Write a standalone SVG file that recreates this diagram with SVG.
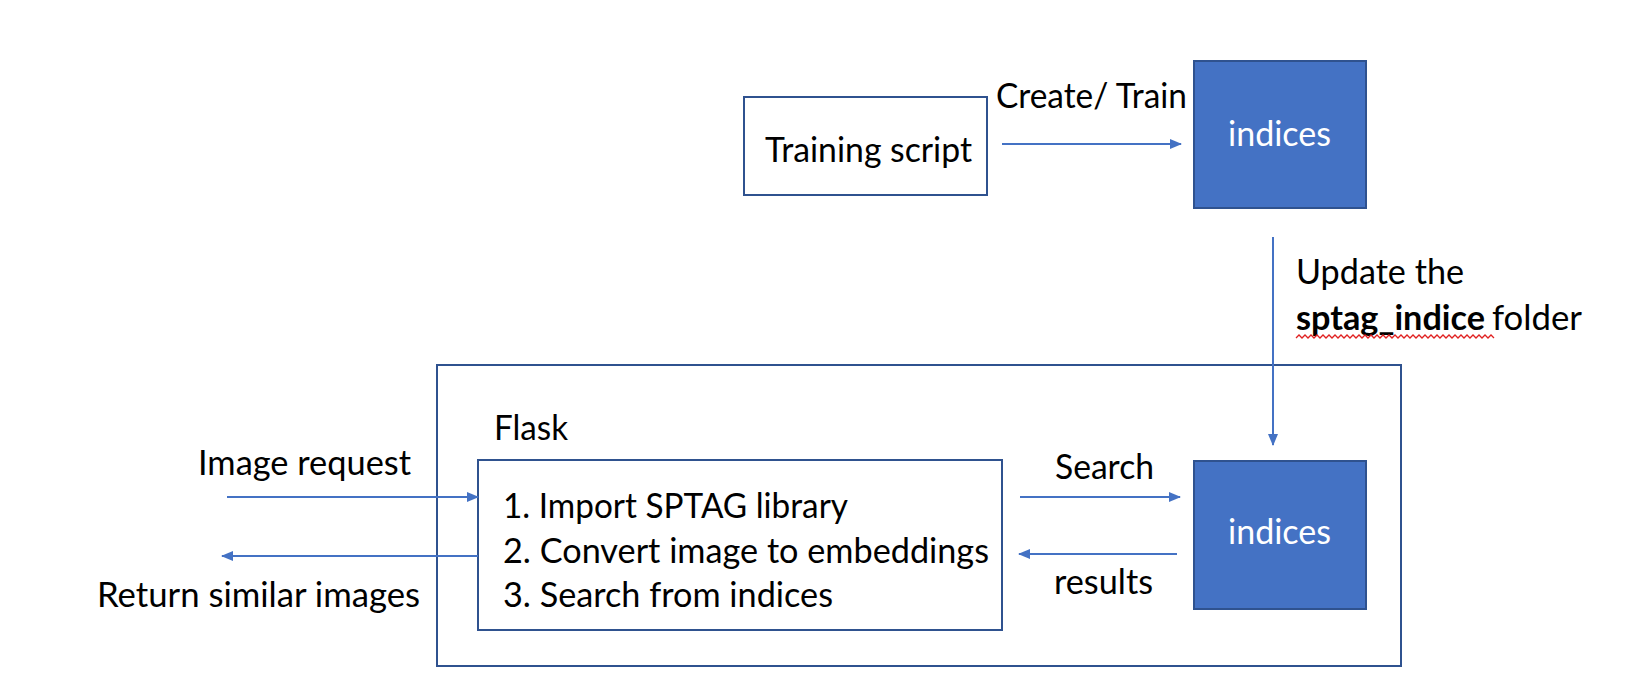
<svg xmlns="http://www.w3.org/2000/svg" width="1632" height="696" viewBox="0 0 1632 696">
<style>
.t{font-family:Lato,"Liberation Sans",sans-serif;font-size:34px;fill:#000}
.w{fill:#fff}
.box{fill:#fff;stroke:#2F528F;stroke-width:2}
.blue{fill:#4472C4;stroke:#2F528F;stroke-width:2}
.c{stroke:#4472C4;stroke-width:2;fill:none;marker-end:url(#ah)}
</style>
<defs>
<marker id="ah" markerWidth="12" markerHeight="10" refX="11" refY="5" orient="auto" markerUnits="userSpaceOnUse">
<path d="M0,0 L12,5 L0,10 Z" fill="#4472C4"/>
</marker>
</defs>
<rect width="1632" height="696" fill="#fff"/>
<g id="flask">
<rect class="box" x="437" y="365" width="964" height="301"/>
<text class="t" x="494" y="440" textLength="74" lengthAdjust="spacingAndGlyphs">Flask</text>
</g>
<g id="training">
<rect class="box" x="744" y="97" width="243" height="98"/>
<text class="t" x="765" y="162" textLength="207" lengthAdjust="spacingAndGlyphs">Training script</text>
</g>
<g id="indices-top">
<rect class="blue" x="1194" y="61" width="172" height="147"/>
<text class="t w" x="1228" y="146" textLength="103" lengthAdjust="spacingAndGlyphs">indices</text>
</g>
<g id="steps">
<rect class="box" x="478" y="460" width="524" height="170"/>
<text class="t" x="503" y="518" textLength="345" lengthAdjust="spacingAndGlyphs">1. Import SPTAG library</text>
<text class="t" x="503" y="563" textLength="486" lengthAdjust="spacingAndGlyphs">2. Convert image to embeddings</text>
<text class="t" x="503" y="607" textLength="330" lengthAdjust="spacingAndGlyphs">3. Search from indices</text>
</g>
<g id="indices-bottom">
<rect class="blue" x="1194" y="461" width="172" height="148"/>
<text class="t w" x="1228" y="544" textLength="103" lengthAdjust="spacingAndGlyphs">indices</text>
</g>
<g id="connectors">
<line class="c" x1="1002" y1="144" x2="1181" y2="144"/>
<line class="c" x1="1273" y1="237" x2="1273" y2="445"/>
<line class="c" x1="1020" y1="497" x2="1180" y2="497"/>
<line class="c" x1="1177" y1="554" x2="1019" y2="554"/>
<line class="c" x1="227" y1="497" x2="478" y2="497"/>
<line class="c" x1="478" y1="556" x2="222" y2="556"/>
</g>
<g id="labels">
<text class="t" x="996" y="108" textLength="191" lengthAdjust="spacingAndGlyphs">Create/ Train</text>
<text class="t" x="1296" y="284" textLength="168" lengthAdjust="spacingAndGlyphs">Update the</text>
<text class="t" x="1296" y="330"><tspan font-weight="bold" textLength="189" lengthAdjust="spacingAndGlyphs">sptag_indice</tspan><tspan x="1492" textLength="90" lengthAdjust="spacingAndGlyphs">folder</tspan></text>
<path d="M1296,338 l3,-3 l3,3 l3,-3 l3,3 l3,-3 l3,3 l3,-3 l3,3 l3,-3 l3,3 l3,-3 l3,3 l3,-3 l3,3 l3,-3 l3,3 l3,-3 l3,3 l3,-3 l3,3 l3,-3 l3,3 l3,-3 l3,3 l3,-3 l3,3 l3,-3 l3,3 l3,-3 l3,3 l3,-3 l3,3 l3,-3 l3,3 l3,-3 l3,3 l3,-3 l3,3 l3,-3 l3,3 l3,-3 l3,3 l3,-3 l3,3 l3,-3 l3,3 l3,-3 l3,3 l3,-3 l3,3 l3,-3 l3,3 l3,-3 l3,3 l3,-3 l3,3 l3,-3 l3,3 l3,-3 l3,3 l3,-3 l3,3 l3,-3 l3,3 l3,-3 l3,3" fill="none" stroke="#E02020" stroke-width="1.3"/>
<text class="t" x="198" y="475" textLength="213" lengthAdjust="spacingAndGlyphs">Image request</text>
<text class="t" x="97" y="607" textLength="323" lengthAdjust="spacingAndGlyphs">Return similar images</text>
<text class="t" x="1055" y="479" textLength="99" lengthAdjust="spacingAndGlyphs">Search</text>
<text class="t" x="1054" y="594" textLength="99" lengthAdjust="spacingAndGlyphs">results</text>
</g>
</svg>
